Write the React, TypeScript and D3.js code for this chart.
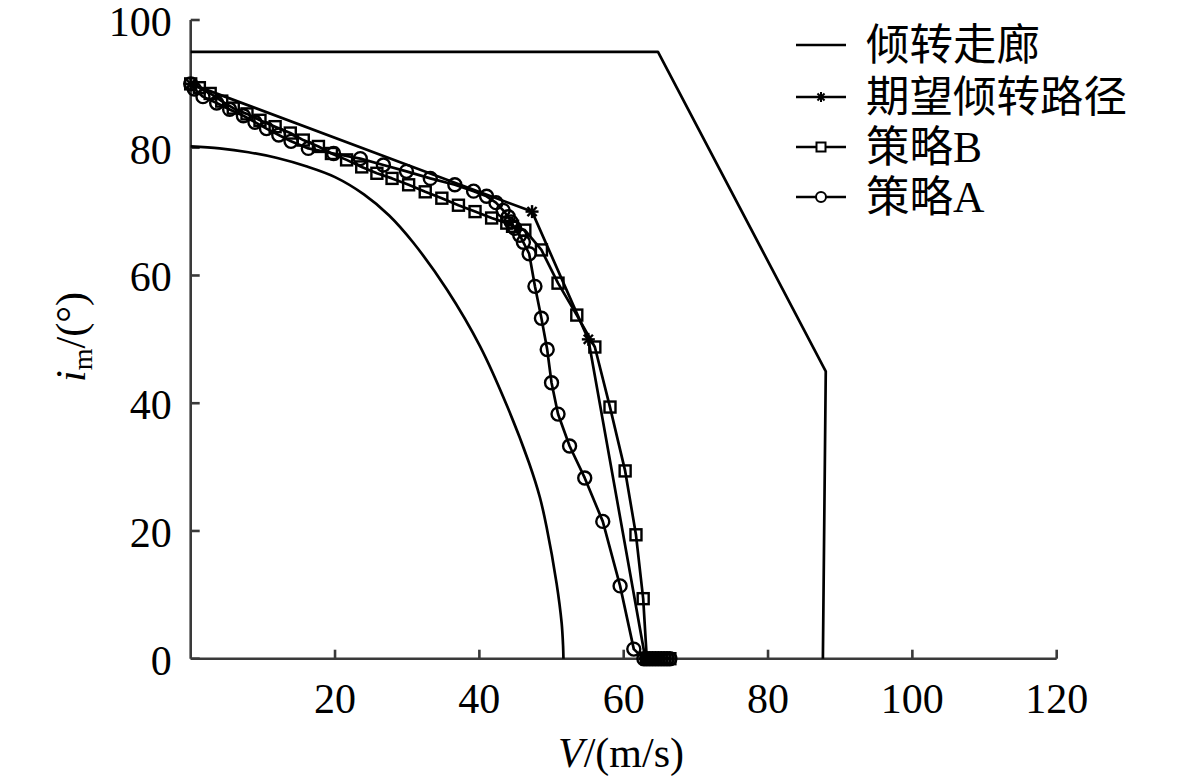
import React from "react";
import * as d3 from "d3";

type P = [number, number];

// 倾转走廊 (corridor) boundaries
const corridorUpper: P[] = [[0, 95], [64.75, 95], [88.0, 45], [87.6, 0]];
const corridorLower: P[] = [
  [0, 80.2], [4, 79.9], [8, 79.3], [12, 78.4], [16, 77.1], [20, 75.4], [24, 72.7],
  [27.5, 69.4], [30.8, 65.2], [35.5, 57.8], [40.1, 48.9], [43.9, 39.4], [46.9, 30.6],
  [48.4, 25.2], [49.3, 20.7], [50.7, 11.8], [51.4, 5.6], [51.6, 2.0], [51.65, 0],
];

// 期望倾转路径
const desiredPath: P[] = [[0, 90], [47.3, 70], [55.1, 50], [63.0, 0]];

// 策略B
const strategyB: P[] = [
  [0, 90], [1.2, 89.4], [2.7, 88.5], [4.3, 87.3], [5.9, 86.2], [7.8, 85.3], [9.6, 84.3],
  [11.7, 83.3], [13.8, 82.3], [15.6, 81.2], [17.7, 80.2], [19.5, 79.1], [21.6, 78.1],
  [23.7, 77.0], [25.8, 76.0], [27.9, 75.2], [30.2, 74.2], [32.5, 73.1], [34.8, 72.1],
  [37.1, 71.0], [39.4, 70.0], [41.7, 69.0], [43.8, 68.2], [44.6, 67.7], [46.3, 67.1],
  [48.6, 64.0], [50.9, 58.8], [53.5, 53.8], [56.0, 48.8], [58.1, 39.4], [60.2, 29.4],
  [61.7, 19.4], [62.7, 9.4], [63.2, 0], [63.6, 0], [64.0, 0], [64.4, 0], [64.8, 0],
  [65.2, 0], [65.6, 0], [66.0, 0], [66.4, 0],
];

// 策略A
const strategyA: P[] = [
  [0, 90], [0.5, 89.2], [1.7, 88.0], [3.6, 87.0], [5.4, 86.0], [7.3, 85.0], [8.9, 84.0],
  [10.5, 83.0], [12.2, 82.0], [13.9, 81.0], [16.3, 79.9], [19.8, 79.1], [23.5, 78.3],
  [26.7, 77.3], [29.9, 76.3], [33.2, 75.2], [36.6, 74.2], [39.2, 73.2], [41.0, 72.4],
  [42.3, 71.4], [43.3, 70.2], [44.0, 69.2], [44.4, 68.4], [44.9, 67.4], [45.6, 66.3],
  [46.1, 65.2], [46.9, 63.4], [47.7, 58.3], [48.6, 53.3], [49.4, 48.4], [50.0, 43.2],
  [50.9, 38.3], [52.5, 33.3], [54.6, 28.3], [57.1, 21.5], [59.5, 11.4], [61.4, 1.5],
  [62.8, 0], [63.2, 0], [63.6, 0], [64.0, 0], [64.4, 0], [64.8, 0], [65.2, 0],
  [65.6, 0], [66.0, 0], [66.4, 0],
];

const xTicks = [20, 40, 60, 80, 100, 120];
const yTicks = [0, 20, 40, 60, 80, 100];
const legendLabels = ["倾转走廊", "期望倾转路径", "策略B", "策略A"];

const W = 1181;
const H = 781;
const serif = "'Liberation Serif', 'Times New Roman', serif";
const cjk = "'Noto Sans CJK SC', sans-serif";

function Star({ cx, cy, r, sw }: { cx: number; cy: number; r: number; sw: number }) {
  const angles = [0, 45, 90, 135];
  return (
    <g stroke="#000" strokeWidth={sw}>
      {angles.map((a) => {
        const t = (a * Math.PI) / 180;
        return (
          <line key={a} x1={cx - r * Math.cos(t)} y1={cy - r * Math.sin(t)} x2={cx + r * Math.cos(t)} y2={cy + r * Math.sin(t)} />
        );
      })}
    </g>
  );
}

export default function App() {
  const x = d3.scaleLinear().domain([0, 120]).range([190.7, 1056.7]);
  const y = d3.scaleLinear().domain([0, 100]).range([658.7, 20]);
  const line = d3.line<P>().x((d) => x(d[0])).y((d) => y(d[1]));
  const curve = d3.line<P>().x((d) => x(d[0])).y((d) => y(d[1])).curve(d3.curveCatmullRom.alpha(0.5));
  const lw = 2.7;
  const axisColor = "#3a3a3a";

  const legendY = [45, 97, 147, 197];
  const lx0 = 796, lx1 = 846, ltx = 866;

  return (
    <svg width={W} height={H} style={{ position: "absolute", left: 0, top: 0, background: "#fff" }}>
      <rect width={W} height={H} fill="#fff" />
      {/* axes */}
      <g stroke={axisColor} strokeWidth={2.6} fill="none">
        <line x1={x(0)} y1={y(0)} x2={x(120)} y2={y(0)} />
        <line x1={x(0)} y1={y(0)} x2={x(0)} y2={y(100)} />
        {xTicks.map((t) => (
          <line key={"xt" + t} x1={x(t)} y1={y(0)} x2={x(t)} y2={y(0) - 9} />
        ))}
        {yTicks.map((t) => (
          <line key={"yt" + t} x1={x(0)} y1={y(t)} x2={x(0) + 9} y2={y(t)} />
        ))}
      </g>
      <g fontFamily={serif} fontSize={42} fill="#000">
        {xTicks.map((t) => (
          <text key={"xl" + t} x={x(t)} y={y(0) + 54} textAnchor="middle">{t}</text>
        ))}
        {yTicks.map((t) => (
          <text key={"yl" + t} x={x(0) - 19} y={y(t) + 16} textAnchor="end">{t}</text>
        ))}
        <text x={621} y={767} textAnchor="middle">
          <tspan fontStyle="italic">V</tspan>/(m/s)
        </text>
        <text transform={`translate(85,337) rotate(-90)`} textAnchor="middle">
          <tspan fontStyle="italic">i</tspan>
          <tspan fontSize={28} dy={7}>m</tspan>
          <tspan dy={-7}>/(°)</tspan>
        </text>
      </g>

      {/* curves */}
      <g fill="none" stroke="#000" strokeWidth={lw} strokeLinejoin="round">
        <path d={line(corridorUpper) || ""} />
        <path d={curve(corridorLower) || ""} />
        <path d={line(desiredPath) || ""} />
        <path d={line(strategyB) || ""} />
        <path d={line(strategyA) || ""} />
      </g>

      {/* markers */}
      <g fill="none" stroke="#000" strokeWidth={2.4}>
        {strategyB.map((d, i) => (
          <rect key={"b" + i} x={x(d[0]) - 5.5} y={y(d[1]) - 5.5} width={11} height={11} />
        ))}
        {strategyA.map((d, i) => (
          <circle key={"a" + i} cx={x(d[0])} cy={y(d[1])} r={6.5} />
        ))}
      </g>
      {desiredPath.map((d, i) => (
        <Star key={"s" + i} cx={x(d[0])} cy={y(d[1])} r={6.5} sw={2.4} />
      ))}

      {/* legend */}
      <g>
        {legendY.map((ly, i) => (
          <line key={"ll" + i} x1={lx0} y1={ly} x2={lx1} y2={ly} stroke="#000" strokeWidth={lw} />
        ))}
        <Star cx={(lx0 + lx1) / 2} cy={legendY[1]} r={5} sw={2} />
        <rect x={(lx0 + lx1) / 2 - 4.5} y={legendY[2] - 4.5} width={9} height={9} fill="#fff" stroke="#000" strokeWidth={2} />
        <circle cx={(lx0 + lx1) / 2} cy={legendY[3]} r={5} fill="#fff" stroke="#000" strokeWidth={2} />
        {legendLabels.map((t, i) => (
          <text key={"lt" + i} x={ltx} y={legendY[i] + 15} fontSize={43.5} fontFamily={`${serif.split(",")[0]}, ${cjk}`} fill="#000">
            {t}
          </text>
        ))}
      </g>
    </svg>
  );
}
